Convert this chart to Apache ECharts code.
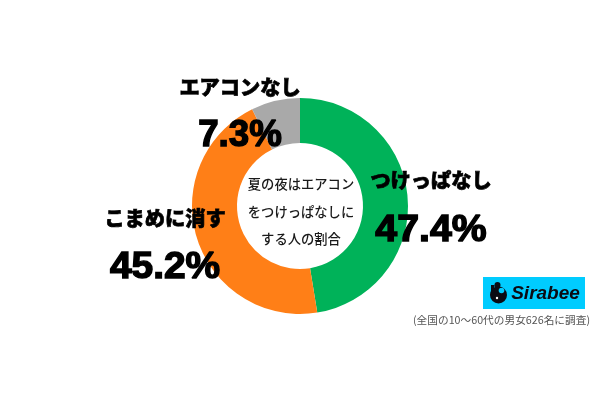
<!DOCTYPE html>
<html><head><meta charset="utf-8">
<style>html,body{margin:0;padding:0;background:#fff}#c{width:600px;height:400px}</style>
<script src="https://cdn.jsdelivr.net/npm/echarts@6/dist/echarts.min.js"></script>
</head><body><div id="c"></div>
<script>
const categories = ['つけっぱなし', 'こまめに消す', 'エアコンなし'];
const values = [47.4, 45.2, 7.3];
const sliceColors = ['#00b259', '#ff7f17', '#a9a9a9'];
const centerLines = ['夏の夜はエアコン', 'をつけっぱなしに', 'する人の割合'];
const footnote = '(全国の10〜60代の男女626名に調査)';
const logoText = 'Sirabee';

const cjk = '"Noto Sans CJK JP"';
const latin = '"Liberation Sans"';
function label(text, x, y) {
  return {type:'text', z:10, style:{text, x, y, align:'center', verticalAlign:'middle',
    font:`900 20.2px ${cjk}`, fill:'#000', stroke:'#000', lineWidth:.7}};
}
function big(text, x, y, sx) {
  return {type:'text', z:10, x, y, scaleX:sx, style:{text, x:0, y:0, align:'center', verticalAlign:'middle',
    font:`900 36px ${latin}`, fill:'#000', stroke:'#000', lineWidth:1.4}};
}
function mid(text, x, y) {
  return {type:'text', z:10, style:{text, x, y, align:'center', verticalAlign:'middle', font:`500 13.3px ${cjk}`, fill:'#1a1a1a'}};
}
const pct = v => v.toFixed(1) + '%';
const chart = echarts.init(document.getElementById('c'), null, {renderer:'canvas'});
chart.setOption({
  animation:false,
  series:[{type:'pie', center:[300,206], radius:[63,108], startAngle:90, clockwise:true,
    silent:true, label:{show:false}, labelLine:{show:false},
    data:categories.map((name,i)=>({name, value:values[i], itemStyle:{color:sliceColors[i]}}))}],
  graphic:[
    label(categories[0], 431, 180),
    label(categories[1], 165, 218),
    label(categories[2], 240, 87),
    big(pct(values[0]), 431, 231, 1.09),
    big(pct(values[1]), 165, 268, 1.08),
    big(pct(values[2]), 240, 136, 1.02),
    mid(centerLines[0], 301, 184),
    mid(centerLines[1], 301, 212),
    mid(centerLines[2], 301, 239),
    {type:'rect', shape:{x:483,y:277,width:102,height:32}, style:{fill:'#00ccff'}},
    {type:'circle', shape:{cx:498.5,cy:295,r:8.5}, style:{fill:'#0b0b14'}},
    {type:'circle', shape:{cx:501.5,cy:290.5,r:2.8}, style:{fill:'#00ccff'}},
    {type:'circle', shape:{cx:497.5,cy:285,r:3}, style:{fill:'#0b0b14'}},
    {type:'rect', shape:{x:491,y:285,width:3.5,height:8}, style:{fill:'#0b0b14'}},
    {type:'circle', shape:{cx:497,cy:298,r:1.2}, style:{fill:'#fff'}},
    {type:'text', z:10, style:{text:logoText, x:545.5, y:294, align:'center', verticalAlign:'middle', font:`italic bold 19px ${latin}`, fill:'#0b0b14'}},
    {type:'text', z:10, style:{text:footnote, x:501.5, y:320, align:'center', verticalAlign:'middle', font:`400 10.7px ${cjk}`, fill:'#555'}}
  ]
});
</script></body></html>
